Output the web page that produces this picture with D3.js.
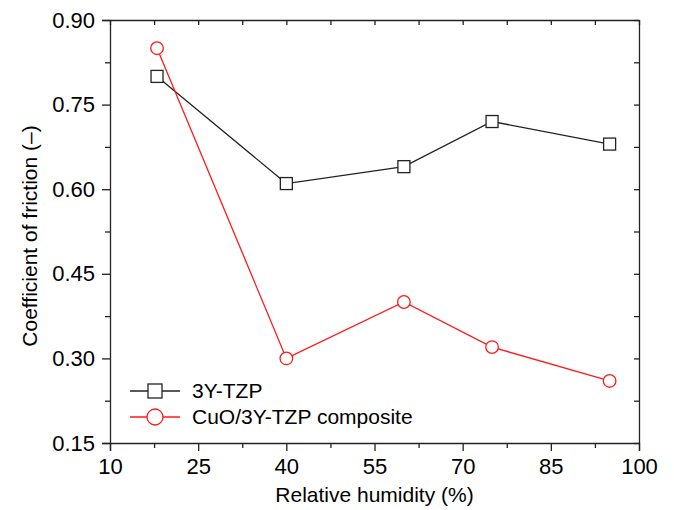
<!DOCTYPE html>
<html>
<head>
<meta charset="utf-8">
<script src="https://cdn.jsdelivr.net/npm/d3@7"></script>
<style>
  body { margin: 0; background: #fff; }
  text { font-family: "Liberation Sans", Arial, sans-serif; fill: #000; }
</style>
</head>
<body>
<div id="canvas"></div>
<script>
"use strict"

/* Data */
let humidity = [18, 40, 60, 75, 95];
let tzpValues = [0.80, 0.61, 0.64, 0.72, 0.68];
let cuoValues = [0.85, 0.30, 0.40, 0.32, 0.26];
let xTicks = [10, 25, 40, 55, 70, 85, 100];
let yTicks = [0.15, 0.30, 0.45, 0.60, 0.75, 0.90];
let seriesNames = ["3Y-TZP", "CuO/3Y-TZP composite"];

/* Drawing config */
let svgWidth = 674;
let svgHeight = 510;
let plotLeft = 110, plotRight = 639, plotTop = 20, plotBottom = 443;

let svg = d3.select("#canvas")
    .append("svg")
    .attr("width", svgWidth)
    .attr("height", svgHeight);

let xScale = d3.scaleLinear().domain([10, 100]).range([plotLeft, plotRight]);
let yScale = d3.scaleLinear().domain([0.15, 0.90]).range([plotBottom, plotTop]);

// minor ticks halfway between major ones
let xMinor = xTicks.slice(0, -1).map(function(d, i){ return (d + xTicks[i + 1]) / 2; });
let yMinor = yTicks.slice(0, -1).map(function(d, i){ return (d + yTicks[i + 1]) / 2; });

let tickFont = "22px";

/* Bottom axis, ticks outward */
let xAxis = svg.append("g")
  .attr("transform", "translate(0," + plotBottom + ")")
  .call(d3.axisBottom(xScale).tickValues(xTicks).tickFormat(d3.format("d")).tickSize(8).tickPadding(7));
xAxis.selectAll("text").style("font-size", tickFont);
svg.append("g")
  .attr("transform", "translate(0," + plotBottom + ")")
  .call(d3.axisBottom(xScale).tickValues(xMinor).tickFormat("").tickSize(5))
  .select(".domain").remove();

/* Left axis, ticks outward */
let yAxis = svg.append("g")
  .attr("transform", "translate(" + plotLeft + ",0)")
  .call(d3.axisLeft(yScale).tickValues(yTicks).tickFormat(d3.format(".2f")).tickSize(8).tickPadding(7));
yAxis.selectAll("text").style("font-size", tickFont);
svg.append("g")
  .attr("transform", "translate(" + plotLeft + ",0)")
  .call(d3.axisLeft(yScale).tickValues(yMinor).tickFormat("").tickSize(5))
  .select(".domain").remove();

/* Top and right axes, ticks inward, no labels */
svg.append("g")
  .attr("transform", "translate(0," + plotTop + ")")
  .call(d3.axisBottom(xScale).tickValues(xTicks.concat(xMinor)).tickFormat("").tickSizeInner(5).tickSizeOuter(0));
svg.append("g")
  .attr("transform", "translate(" + plotRight + ",0)")
  .call(d3.axisLeft(yScale).tickValues(yTicks.concat(yMinor)).tickFormat("").tickSizeInner(5).tickSizeOuter(0));

svg.selectAll(".domain, .tick line")
  .attr("stroke", "#222")
  .attr("stroke-width", 1.3);

/* Axis titles */
svg.append("text")
  .attr("x", (plotLeft + plotRight) / 2)
  .attr("y", 502)
  .style("text-anchor", "middle")
  .style("font-size", "21px")
  .text("Relative humidity (%)");

svg.append("text")
  .attr("transform", "translate(37,236) rotate(-90)")
  .style("text-anchor", "middle")
  .style("font-size", "21px")
  .text("Coefficient of friction (–)");

/* Series */
let line = d3.line()
  .x(function(d){ return xScale(d[0]); })
  .y(function(d){ return yScale(d[1]); });

let tzp = d3.zip(humidity, tzpValues);
let cuo = d3.zip(humidity, cuoValues);

svg.append("path")
  .datum(tzp)
  .attr("d", line)
  .attr("fill", "none")
  .attr("stroke", "#222")
  .attr("stroke-width", 1.3);

svg.append("path")
  .datum(cuo)
  .attr("d", line)
  .attr("fill", "none")
  .attr("stroke", "#ff1a1a")
  .attr("stroke-width", 1.3);

let sq = 12;
svg.selectAll("rect.tzp")
  .data(tzp)
  .enter()
  .append("rect")
  .attr("class", "tzp")
  .attr("x", function(d){ return xScale(d[0]) - sq / 2; })
  .attr("y", function(d){ return yScale(d[1]) - sq / 2; })
  .attr("width", sq)
  .attr("height", sq)
  .attr("fill", "#fff")
  .attr("stroke", "#222")
  .attr("stroke-width", 1.3);

svg.selectAll("circle.cuo")
  .data(cuo)
  .enter()
  .append("circle")
  .attr("class", "cuo")
  .attr("cx", function(d){ return xScale(d[0]); })
  .attr("cy", function(d){ return yScale(d[1]); })
  .attr("r", 6.3)
  .attr("fill", "#fff")
  .attr("stroke", "#ff1a1a")
  .attr("stroke-width", 1.3);

/* Legend */
let legendX = 130, legendY = 391, rowGap = 26;
let colors = ["#222", "#ff1a1a"];
for (let i = 0; i < seriesNames.length; i = i + 1) {
  let yy = legendY + i * rowGap;
  svg.append("line")
    .attr("x1", legendX).attr("x2", legendX + 50)
    .attr("y1", yy).attr("y2", yy)
    .attr("stroke", colors[i])
    .attr("stroke-width", 1.3);
  if (i === 0) {
    svg.append("rect")
      .attr("x", legendX + 25 - 7).attr("y", yy - 7)
      .attr("width", 14).attr("height", 14)
      .attr("fill", "#fff").attr("stroke", colors[i]).attr("stroke-width", 1.3);
  } else {
    svg.append("circle")
      .attr("cx", legendX + 25).attr("cy", yy)
      .attr("r", 8)
      .attr("fill", "#fff").attr("stroke", colors[i]).attr("stroke-width", 1.3);
  }
  svg.append("text")
    .attr("x", legendX + 62)
    .attr("y", yy + 7)
    .style("font-size", "21px")
    .text(seriesNames[i]);
}
</script>
</body>
</html>
